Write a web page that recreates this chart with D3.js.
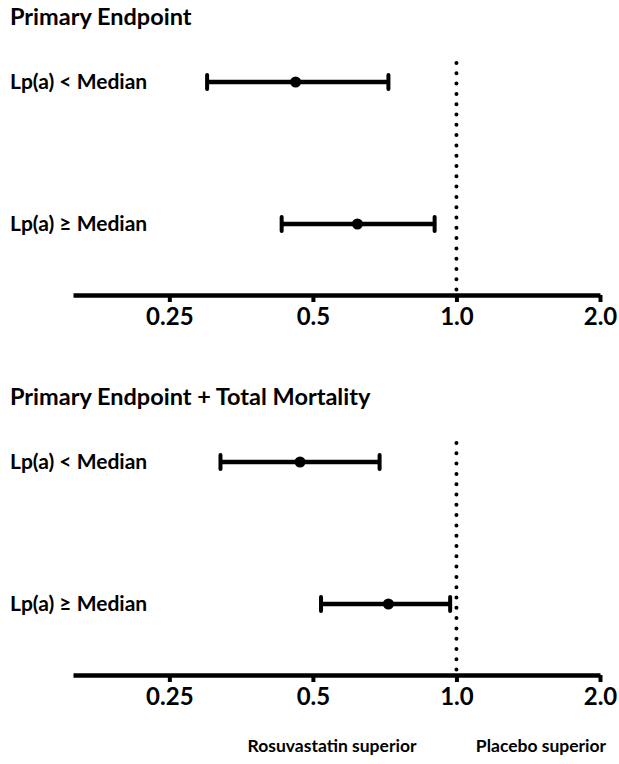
<!DOCTYPE html>
<html lang="en">
<head>
<meta charset="UTF-8">
<title>Lp(a) forest plot</title>
<style>
    body { margin: 0; background: #fff; }
    svg { display: block; font-family: 'Lato', sans-serif; font-weight: 700; }
    .axis path { stroke: #000; stroke-width: 4.5; fill: none; }
    .axis line { stroke: #000; stroke-width: 4; }
    .axis text { fill: #000; font-size: 24px; font-family: 'Lato', sans-serif; font-weight: 700; }
</style>
<script src="https://d3js.org/d3.v7.min.js"></script>
</head>
<body>
<svg id="chart" width="619" height="764"></svg>
<script>
    // values (hazard ratio with 95% CI)
    const panels = ["Primary Endpoint", "Primary Endpoint + Total Mortality"];
    const rows = ["Lp(a) < Median", "Lp(a) \u2265 Median"];
    const hr = [[0.46, 0.62], [0.47, 0.72]];
    const lower = [[0.30, 0.43], [0.32, 0.52]];
    const upper = [[0.72, 0.90], [0.69, 0.97]];
    const tickValues = [0.25, 0.5, 1.0, 2.0];
    const tickLabels = ["0.25", "0.5", "1.0", "2.0"];
    const footLabels = ["Rosuvastatin superior", "Placebo superior"];

    const svg = d3.select("#chart");
    const panelTop = [0, 380];
    const axisY = 295;

    const x = d3.scaleLog().domain([0.157, 2.0]).range([73, 600]);
    const y = d3.scalePoint().domain(rows).range([82, 224]);

    panels.forEach((title, p) => {
        const g = svg.append("g").attr("transform", `translate(0,${panelTop[p]})`);

        g.append("text")
            .attr("x", 10).attr("y", 25)
            .style("font-size", "23.5px")
            .text(title);

        // reference line at HR = 1
        g.append("line")
            .attr("x1", x(1)).attr("x2", x(1))
            .attr("y1", 63).attr("y2", axisY)
            .attr("stroke", "#000")
            .attr("stroke-width", 4)
            .attr("stroke-linecap", "round")
            .attr("stroke-dasharray", "0 10.3");

        const data = rows.map((r, i) => ({ row: r, hr: hr[p][i], lo: lower[p][i], hi: upper[p][i] }));

        g.selectAll(".label").data(data).enter().append("text")
            .attr("x", 10).attr("y", d => y(d.row))
            .attr("dy", "0.35em")
            .style("font-size", "21px")
            .text(d => d.row);

        g.selectAll(".ci").data(data).enter().append("line")
            .attr("x1", d => x(d.lo)).attr("x2", d => x(d.hi))
            .attr("y1", d => y(d.row)).attr("y2", d => y(d.row))
            .attr("stroke", "#000").attr("stroke-width", 4.5);

        ["lo", "hi"].forEach(k => {
            g.selectAll(".cap-" + k).data(data).enter().append("line")
                .attr("x1", d => x(d[k])).attr("x2", d => x(d[k]))
                .attr("y1", d => y(d.row) - 7).attr("y2", d => y(d.row) + 7)
                .attr("stroke", "#000").attr("stroke-width", 4)
                .attr("stroke-linecap", "round");
        });

        g.selectAll(".pt").data(data).enter().append("circle")
            .attr("cx", d => x(d.hr)).attr("cy", d => y(d.row))
            .attr("r", 5.5).attr("fill", "#000");

        g.append("g")
            .attr("class", "axis")
            .attr("transform", `translate(0,${axisY})`)
            .call(d3.axisBottom(x)
                .tickValues(tickValues)
                .tickFormat((d, i) => tickLabels[i])
                .tickSizeInner(7)
                .tickSizeOuter(0)
                .tickPadding(6));
    });

    svg.selectAll(".foot").data(footLabels).enter().append("text")
        .attr("x", (d, i) => i === 0 ? 332 : 541)
        .attr("y", 752)
        .attr("text-anchor", "middle")
        .style("font-size", "17.5px")
        .text(d => d);
</script>
</body>
</html>
